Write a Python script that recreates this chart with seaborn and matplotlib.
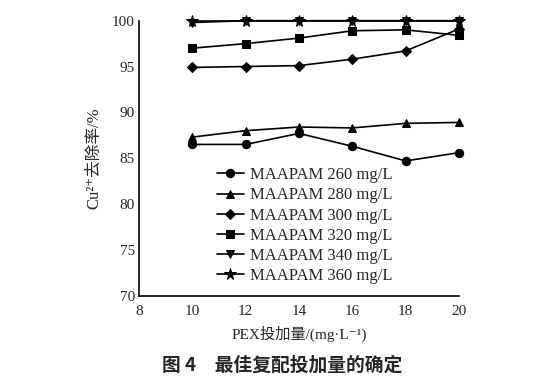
import numpy as np
import pandas as pd
import seaborn as sns
import matplotlib.pyplot as plt

# PEX dose (mg/L) and Cu2+ removal (%)
dose = [10, 12, 14, 16, 18, 20]
labels = ['MAAPAM 260 mg/L', 'MAAPAM 280 mg/L', 'MAAPAM 300 mg/L',
          'MAAPAM 320 mg/L', 'MAAPAM 340 mg/L', 'MAAPAM 360 mg/L']
r260 = [86.5, 86.5, 87.7, 86.3, 84.7, 85.6]
r280 = [87.3, 88.0, 88.4, 88.3, 88.8, 88.9]
r300 = [94.9, 95.0, 95.1, 95.8, 96.7, 99.1]
r320 = [97.0, 97.5, 98.1, 98.9, 99.0, 98.4]
r340 = [99.8, 100.0, 100.0, 100.0, 100.0, 100.0]
r360 = [100.0, 100.0, 100.0, 100.0, 100.0, 100.0]
x_ticks = [8, 10, 12, 14, 16, 18, 20]
y_ticks = [70, 75, 80, 85, 90, 95, 100]

series = [r260, r280, r300, r320, r340, r360]
df = pd.DataFrame({
    'dose': dose * len(labels),
    'removal': [v for s in series for v in s],
    'series': [lab for lab in labels for _ in dose],
})

sns.set_style('white')
plt.rcParams['font.family'] = ['Liberation Serif', 'Noto Sans CJK SC', 'DejaVu Sans']

fig = plt.figure(figsize=(5.46, 3.83), dpi=100)
ax = fig.add_axes([0.2546, 0.228, 0.586, 0.718])

mk = dict(zip(labels, ['o', '^', 'D', 's', 'v', '*']))
sns.lineplot(data=df, x='dose', y='removal', style='series', markers=mk, dashes=False,
             color='black', linewidth=1.2, markersize=6, markeredgecolor='black',
             ax=ax, legend='full')


def fix_marker(ln):
    # star and diamond look smaller, bump them a bit
    if ln.get_marker() == '*':
        ln.set_markersize(8.5)
    elif ln.get_marker() == 'D':
        ln.set_markersize(5)


for ln in ax.lines:
    fix_marker(ln)
    ln.set_clip_on(False)

ax.set_xlim(8, 20)
ax.set_ylim(70, 100)
ax.set_xticks(x_ticks)
ax.set_yticks(y_ticks)
ax.tick_params(direction='in', length=4, width=1, labelsize=11, pad=3, color='black')
ax.tick_params(axis='x', pad=6.5)
sns.despine(ax=ax)
for s in ['left', 'bottom']:
    ax.spines[s].set_color('black')
    ax.spines[s].set_linewidth(1.2)

ax.set_xlabel('PEX投加量/(mg·L⁻¹)', fontsize=11, labelpad=6)
ax.set_ylabel('Cu²⁺去除率/%', fontsize=12, labelpad=7)

h, l = ax.get_legend_handles_labels()
for hh in h:
    fix_marker(hh)
ax.legend(h, l, loc='upper left', bbox_to_anchor=(0.244, 0.467), frameon=False,
          fontsize=12, borderpad=0, borderaxespad=0, labelspacing=0.25,
          handlelength=1.6, handletextpad=0.4)

fig.text(0.517, 0.047, '图 4　最佳复配投加量的确定', fontsize=13.5, fontweight='bold',
         ha='center', va='center', family=['Noto Sans CJK SC', 'DejaVu Sans'])

fig.savefig('out.png', dpi=100)
